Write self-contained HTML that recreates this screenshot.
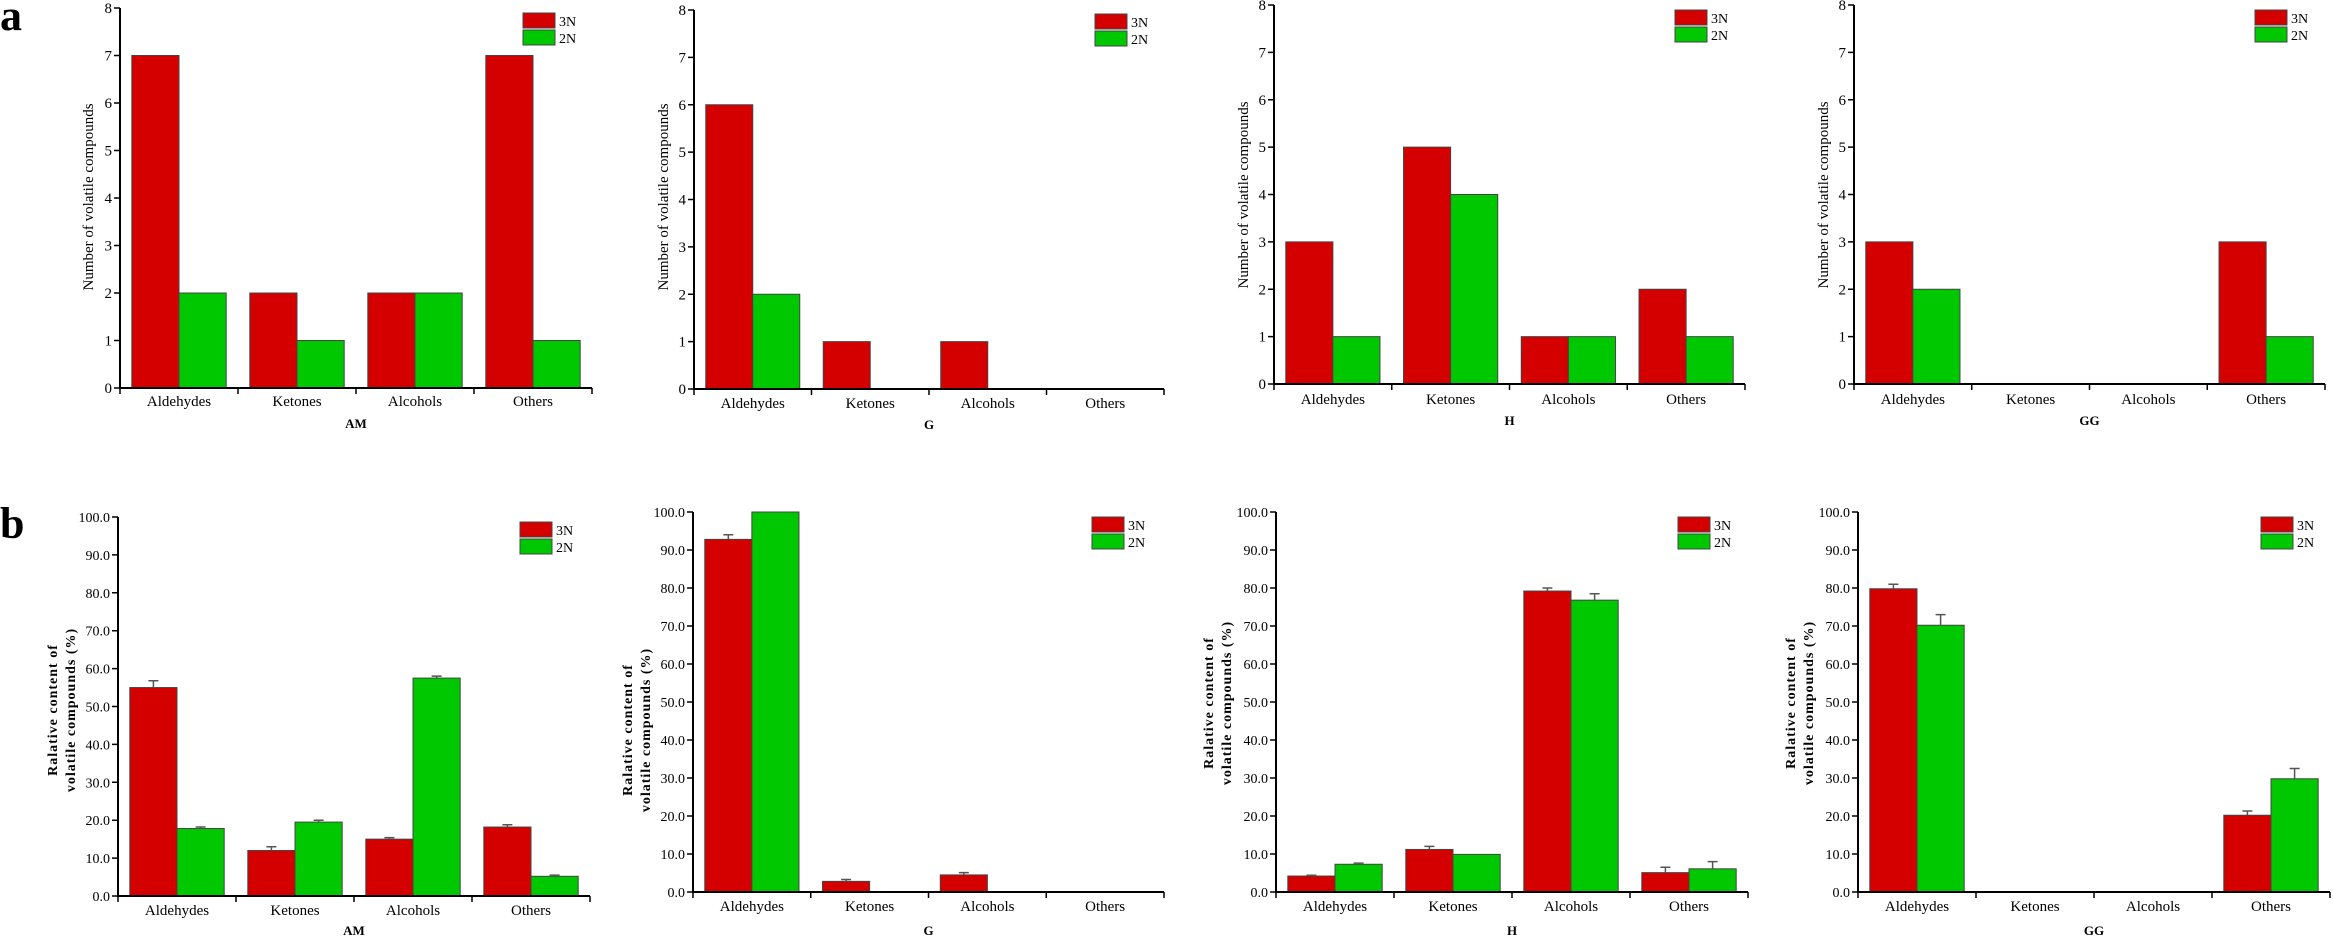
<!DOCTYPE html>
<html><head><meta charset="utf-8"><style>
html,body{margin:0;padding:0;background:#fff;}
svg{display:block;font-family:"Liberation Serif",serif;}
</style></head><body>
<svg id="fig" width="2333" height="945" viewBox="0 0 2333 945" xmlns="http://www.w3.org/2000/svg">
<text x="0" y="30" font-size="44" font-weight="bold">a</text>
<text x="0" y="538" font-size="44" font-weight="bold">b</text>
</svg>
<script>
const categories = ["Aldehydes","Ketones","Alcohols","Others"];
const groupNames = ["AM","G","H","GG"];
const seriesNames = ["3N","2N"];
// Row a: number of volatile compounds
const countAM3N = [7,2,2,7];
const countAM2N = [2,1,2,1];
const countG3N = [6,1,1,0];
const countG2N = [2,0,0,0];
const countH3N = [3,5,1,2];
const countH2N = [1,4,1,1];
const countGG3N = [3,0,0,3];
const countGG2N = [2,0,0,1];
const countTicks = [0,1,2,3,4,5,6,7,8];
// Row b: relative content (%)
const pctAM3N = [55.0,12.0,15.0,18.2];
const pctAM2N = [17.8,19.5,57.5,5.2];
const errAM3N = [1.8,1.0,0.4,0.6];
const errAM2N = [0.4,0.5,0.5,0.3];
const pctG3N = [92.8,2.8,4.5,0];
const pctG2N = [100,0,0,0];
const errG3N = [1.2,0.5,0.6,0];
const errG2N = [0,0,0,0];
const pctH3N = [4.2,11.2,79.2,5.1];
const pctH2N = [7.3,9.9,76.8,6.1];
const errH3N = [0.2,0.8,0.8,1.4];
const errH2N = [0.3,0,1.7,1.9];
const pctGG3N = [79.8,0,0,20.2];
const pctGG2N = [70.2,0,0,29.8];
const errGG3N = [1.2,0,0,1.1];
const errGG2N = [2.8,0,0,2.7];
const pctTicks = [0,10,20,30,40,50,60,70,80,90,100];

const NS="http://www.w3.org/2000/svg";
const svg=document.getElementById('fig');
const RED="#d40000", GREEN="#00c800";
function mk(tag,attrs,parent){const e=document.createElementNS(NS,tag);for(const k in attrs)e.setAttribute(k,attrs[k]);(parent||svg).appendChild(e);return e;}

function panel(cfg){
  const g=mk('g',{});
  
  
  const x0=cfg.x0,x1=cfg.x1,yTop=cfg.yTop,yBot=cfg.yBot,max=cfg.max;
  const yS=v=>yBot-(v/max)*(yBot-yTop);
  const cw=(x1-x0)/categories.length;
  const bw=cw*0.4;
  categories.forEach((c,i)=>{
    const cx=x0+cw*(i+0.5);
    [cfg.s1,cfg.s2].forEach((arr,si)=>{
      const v=arr[i];
      if(v<=0)return;
      const bx=si===0?cx-bw:cx;
      const r=mk('rect',{x:bx,y:yS(v),width:bw,height:yBot-yS(v),fill:si===0?RED:GREEN,stroke:"#444","stroke-width":1},g);
      
      
      const errs=si===0?cfg.e1:cfg.e2;
      if(errs&&errs[i]>0){
        const ex=bx+bw/2;
        const l=mk('path',{d:`M${ex},${yS(v)} V${yS(v+errs[i])} M${ex-5},${yS(v+errs[i])} H${ex+5}`,stroke:"#555","stroke-width":1.5,fill:"none"},g);
        
        
      }
    });
    const t=mk('text',{x:cx,y:cfg.catY,'font-size':15,'text-anchor':'middle'},g);
    t.textContent=c;
    
    
  });
  const ax=mk('path',{d:`M${x0},${yTop} V${yBot} H${x1}`,stroke:"#000","stroke-width":2,fill:"none"},g);
  
  
  let d='';
  for(let i=0;i<=categories.length;i++){const x=x0+cw*i;d+=`M${x},${yBot} V${yBot+6} `;}
  cfg.ticks.forEach(v=>{d+=`M${x0-6},${yS(v)} H${x0} `;});
  const tk=mk('path',{d:d,stroke:"#000","stroke-width":1.5,fill:"none"},g);
  
  
  cfg.ticks.forEach(v=>{
    const t=mk('text',{x:x0-8,y:yS(v)+5,'font-size':cfg.pct?14:15,'text-anchor':'end'},g);
    t.textContent=cfg.pct?v.toFixed(1):String(v);
    
    
  });
  const xt=mk('text',{x:(x0+x1)/2,y:cfg.titleY,'font-size':13,'font-weight':'bold','text-anchor':'middle'},g);
  xt.textContent=cfg.name;
  
  
  const yc=cfg.yTitleY;
  if(cfg.pct){
    const t1=mk('text',{x:0,y:0,'font-size':14,'font-weight':'bold','text-anchor':'middle','letter-spacing':'1',transform:`translate(${cfg.yTitleX},${yc}) rotate(-90)`},g);
    t1.textContent="Ralative content of";
    
    
    const t2=mk('text',{x:0,y:0,'font-size':14,'font-weight':'bold','text-anchor':'middle','letter-spacing':'1',transform:`translate(${cfg.yTitleX+18},${yc}) rotate(-90)`},g);
    t2.textContent="volatile compounds (%)";
    
    
  } else {
    const t=mk('text',{x:0,y:0,'font-size':15,'text-anchor':'middle',transform:`translate(${cfg.yTitleX},${yc}) rotate(-90)`},g);
    t.textContent="Number of volatile compounds";
    
    
  }
  seriesNames.forEach((s,si)=>{
    const ly=cfg.legY+si*17;
    const r=mk('rect',{x:cfg.legX,y:ly,width:32,height:15,fill:si===0?RED:GREEN,stroke:"#444","stroke-width":1},g);
    
    
    const t=mk('text',{x:cfg.legX+36,y:ly+13,'font-size':14},g);
    t.textContent=s;
    
    
  });
}

const topPanels=[
 {id:'a-am',x0:120,x1:592,yTop:8,yBot:388,s1:countAM3N,s2:countAM2N,legX:523,legY:13,yTitleX:93,yTitleY:197,catY:406,titleY:428},
 {id:'a-g',x0:694,x1:1164,yTop:10,yBot:389,s1:countG3N,s2:countG2N,legX:1095,legY:14,yTitleX:668,yTitleY:197,catY:408,titleY:429},
 {id:'a-h',x0:1274,x1:1745,yTop:5,yBot:384,s1:countH3N,s2:countH2N,legX:1675,legY:10,yTitleX:1248,yTitleY:195,catY:404,titleY:425},
 {id:'a-gg',x0:1854,x1:2325,yTop:5,yBot:384,s1:countGG3N,s2:countGG2N,legX:2255,legY:10,yTitleX:1828,yTitleY:195,catY:404,titleY:425}
];
topPanels.forEach((c,i)=>{c.max=8;c.ticks=countTicks;c.name=groupNames[i];c.pct=false;panel(c);});
const botPanels=[
 {id:'b-am',x0:118,x1:590,yTop:517,yBot:896,s1:pctAM3N,s2:pctAM2N,e1:errAM3N,e2:errAM2N,legX:520,legY:522,yTitleX:57,yTitleY:710,catY:915,titleY:935},
 {id:'b-g',x0:693,x1:1164,yTop:512,yBot:892,s1:pctG3N,s2:pctG2N,e1:errG3N,e2:errG2N,legX:1092,legY:517,yTitleX:632,yTitleY:730,catY:911,titleY:935},
 {id:'b-h',x0:1276,x1:1748,yTop:512,yBot:892,s1:pctH3N,s2:pctH2N,e1:errH3N,e2:errH2N,legX:1678,legY:517,yTitleX:1213,yTitleY:703,catY:911,titleY:935},
 {id:'b-gg',x0:1858,x1:2330,yTop:512,yBot:892,s1:pctGG3N,s2:pctGG2N,e1:errGG3N,e2:errGG2N,legX:2261,legY:517,yTitleX:1795,yTitleY:703,catY:911,titleY:935}
];
botPanels.forEach((c,i)=>{c.max=100;c.ticks=pctTicks;c.name=groupNames[i];c.pct=true;panel(c);});
</script>
</body></html>
